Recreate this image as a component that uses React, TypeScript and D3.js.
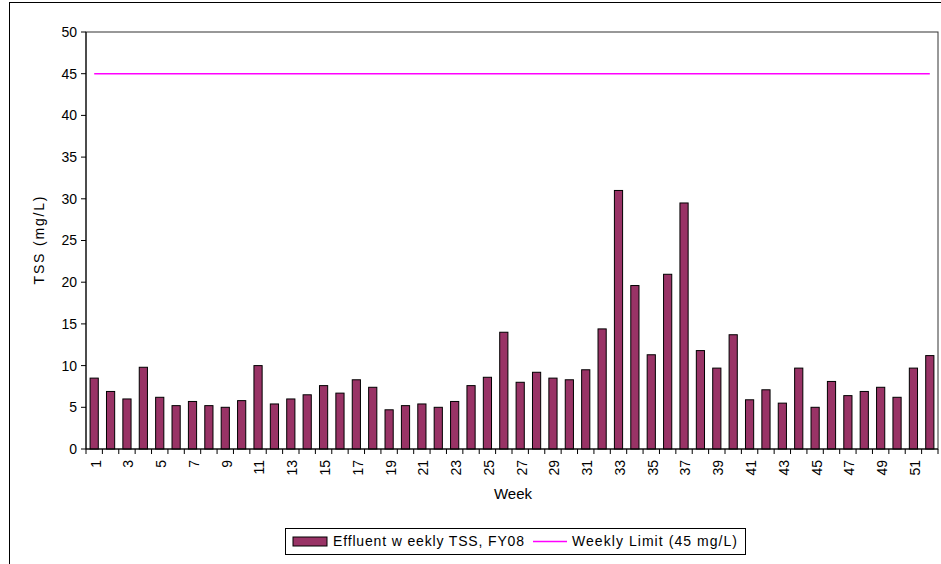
import React from "react";
import * as d3 from "d3";

const weeks: number[] = Array.from({ length: 52 }, (_, i) => i + 1);
const tssValues: number[] = [
  8.5, 6.9, 6.0, 9.8, 6.2, 5.2, 5.7, 5.2, 5.0, 5.8,
  10.0, 5.4, 6.0, 6.5, 7.6, 6.7, 8.3, 7.4, 4.7, 5.2,
  5.4, 5.0, 5.7, 7.6, 8.6, 14.0, 8.0, 9.2, 8.5, 8.3,
  9.5, 14.4, 31.0, 19.6, 11.3, 20.95, 29.5, 11.8, 9.7, 13.7,
  5.9, 7.1, 5.5, 9.7, 5.0, 8.1, 6.4, 6.9, 7.4, 6.2,
  9.7, 11.2,
];
const weeklyLimit = 45;
const yTicks: number[] = [0, 5, 10, 15, 20, 25, 30, 35, 40, 45, 50];
const seriesLabels: string[] = ["Effluent w eekly TSS, FY08", "Weekly Limit (45 mg/L)"];

const W = 941, H = 564;
const plot = { left: 86, right: 938, top: 32, bottom: 449 };
const FONT = "'Liberation Sans', Arial, sans-serif";

export default function App() {
  const x = d3.scaleBand<number>().domain(weeks).range([plot.left, plot.right]).paddingInner(0.5).paddingOuter(0.25);
  const xEdge = d3.scaleLinear().domain([0, weeks.length]).range([plot.left, plot.right]);
  const y = d3.scaleLinear().domain([0, 50]).range([plot.bottom, plot.top]);

  return (
    <svg width={W} height={H} style={{ position: "absolute", left: 0, top: 0, background: "#fff" }} fontFamily={FONT}>
      <rect x={9.5} y={2.5} width={940} height={600} fill="#fff" stroke="#000" strokeWidth={1} />
      {/* plot border */}
      <rect x={plot.left} y={plot.top} width={plot.right - plot.left} height={plot.bottom - plot.top} fill="none" stroke="#333" strokeWidth={1} />
      {/* bars */}
      {tssValues.map((v, i) => (
        <rect key={i} x={x(weeks[i])!} y={y(v)} width={x.bandwidth()} height={y(0) - y(v)} fill="#993366" stroke="#000" strokeWidth={1} />
      ))}
      {/* limit line */}
      <line x1={x(1)! + x.bandwidth() / 2} x2={x(52)! + x.bandwidth() / 2} y1={y(weeklyLimit)} y2={y(weeklyLimit)} stroke="#ff00ff" strokeWidth={1.5} />
      {/* y axis */}
      <line x1={plot.left} x2={plot.left} y1={plot.top} y2={plot.bottom} stroke="#000" />
      {yTicks.map((t) => (
        <g key={t}>
          <line x1={plot.left - 5} x2={plot.left} y1={y(t)} y2={y(t)} stroke="#000" />
          <text x={plot.left - 9} y={y(t)} dy="0.35em" textAnchor="end" fontSize={14} fill="#000">{t}</text>
        </g>
      ))}
      <text transform={`translate(44,${(plot.top + plot.bottom) / 2}) rotate(-90)`} textAnchor="middle" fontSize={14} fill="#000" textLength={88} lengthAdjust="spacing">TSS (mg/L)</text>
      {/* x axis */}
      <line x1={plot.left} x2={plot.right} y1={plot.bottom} y2={plot.bottom} stroke="#000" />
      {d3.range(weeks.length + 1).map((k) => (
        <line key={k} x1={xEdge(k)} x2={xEdge(k)} y1={plot.bottom} y2={plot.bottom + 5} stroke="#000" />
      ))}
      {weeks.filter((w) => w % 2 === 1).map((w) => {
        const cx = x(w)! + x.bandwidth() / 2 + 1.5;
        return (
          <text key={w} transform={`translate(${cx},${plot.bottom + 11}) rotate(-90)`} textAnchor="end" dy="0.35em" fontSize={14} fill="#000">{w}</text>
        );
      })}
      <text x={513} y={499} textAnchor="middle" fontSize={15} fill="#000">Week</text>
      {/* legend */}
      <rect x={285.5} y={528.5} width={460} height={26} fill="#fff" stroke="#000" />
      <rect x={293} y={537} width={34} height={9} fill="#993366" stroke="#000" />
      <text x={333} y={546} fontSize={14} fill="#000" textLength={191} lengthAdjust="spacing">{seriesLabels[0]}</text>
      <line x1={533} x2={567} y1={541.5} y2={541.5} stroke="#ff00ff" strokeWidth={1.5} />
      <text x={572} y={546} fontSize={14} fill="#000" textLength={165} lengthAdjust="spacing">{seriesLabels[1]}</text>
    </svg>
  );
}
